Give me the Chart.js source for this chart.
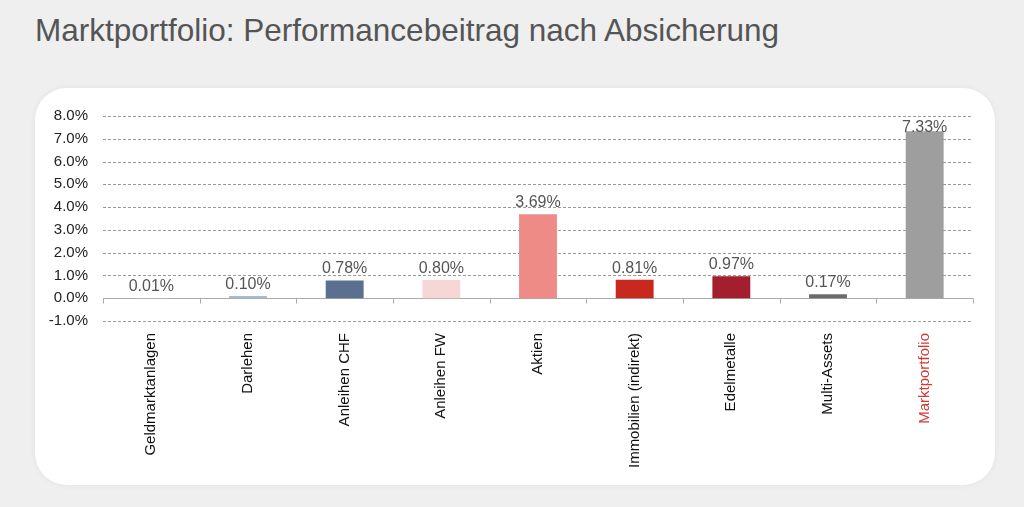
<!DOCTYPE html>
<html>
<head>
<meta charset="utf-8">
<script src="https://cdn.jsdelivr.net/npm/chart.js@4"></script>
<style>
  html, body { margin: 0; padding: 0; }
  body { width: 1024px; height: 507px; background: #efefef; position: relative; overflow: hidden;
         font-family: "Liberation Sans", Arial, sans-serif; }
  #title { position: absolute; left: 35px; top: 12px; margin: 0; font-size: 31.5px; font-weight: normal; color: #555555; }
  #card { position: absolute; left: 35px; top: 88px; width: 960px; height: 397px; background: #fff;
          border-radius: 32px; box-shadow: 0 0 6px rgba(0,0,0,0.06); }
  #wrap { position: absolute; left: 0; top: 0; width: 1024px; height: 507px; }
</style>
</head>
<body>
<h1 id="title">Marktportfolio: Performancebeitrag nach Absicherung</h1>
<div id="card"></div>
<div id="wrap"><canvas id="myChart"></canvas></div>
<script>
const categories = ["Geldmarktanlagen", "Darlehen", "Anleihen CHF", "Anleihen FW", "Aktien",
  "Immobilien (indirekt)", "Edelmetalle", "Multi-Assets", "Marktportfolio"];
const performance = [0.01, 0.10, 0.78, 0.80, 3.69, 0.81, 0.97, 0.17, 7.33];
const barColors = ["#b8c7db", "#a9b9cf", "#5b7090", "#f7d6d6", "#ef8b87", "#c8291e", "#a31f2e", "#6b6b6b", "#9e9e9e"];
const labelColors = ["#111", "#111", "#111", "#111", "#111", "#111", "#111", "#111", "#d23a35"];
const yMin = -1, yMax = 8, yStep = 1;

(()=>{
  const ctx = document.getElementById('myChart').getContext('2d');
  const font = '"Liberation Sans", Arial, sans-serif';

  // gestrichelte Gitterlinien + Nulllinie mit Teilstrichen
  const gridPlugin = {
    id: 'gridPlugin',
    beforeDatasetsDraw(chart) {
      const c = chart.ctx, y = chart.scales.y, x = chart.scales.x, a = chart.chartArea;
      c.save();
      c.lineWidth = 1;
      y.ticks.forEach(t => {
        if (t.value === 0) return;
        const py = Math.round(y.getPixelForValue(t.value)) + 0.5;
        c.strokeStyle = '#9a9a9a';
        c.setLineDash([3, 2]);
        c.beginPath(); c.moveTo(a.left, py); c.lineTo(a.right, py); c.stroke();
      });
      const p0 = Math.round(y.getPixelForValue(0)) + 0.5;
      c.setLineDash([]);
      c.strokeStyle = '#aaaaaa';
      c.beginPath(); c.moveTo(a.left, p0); c.lineTo(a.right, p0); c.stroke();
      for (let i = 0; i <= categories.length; i++) {
        const px = Math.round(x.getPixelForValue(i - 0.5)) + 0.5;
        c.beginPath(); c.moveTo(px, p0); c.lineTo(px, p0 + 5); c.stroke();
      }
      c.restore();
    },
    afterDatasetsDraw(chart) {
      const c = chart.ctx, a = chart.chartArea;
      const meta = chart.getDatasetMeta(0);
      c.save();
      c.font = '16px ' + font;
      c.fillStyle = '#555555';
      c.textAlign = 'center';
      c.textBaseline = 'alphabetic';
      meta.data.forEach((bar, i) => {
        let ty = bar.y - 7;
        if (ty < a.top + 16) ty = a.top + 16;
        c.fillText(performance[i].toFixed(2) + '%', bar.x, ty);
      });
      c.restore();
    }
  };

  new Chart(ctx, {
    type: 'bar',
    data: {
      labels: categories,
      datasets: [{
        data: performance,
        backgroundColor: barColors,
        borderWidth: 0,
        barPercentage: 0.8,
        categoryPercentage: 0.49
      }]
    },
    options: {
      responsive: true,
      maintainAspectRatio: false,
      animation: false,
      layout: { padding: { top: 116, right: 51, left: 0, bottom: 0 } },
      plugins: { legend: { display: false }, tooltip: { enabled: false } },
      scales: {
        x: {
          grid: { display: false },
          border: { display: false },
          ticks: {
            minRotation: 90, maxRotation: 90, padding: 4, autoSkip: false,
            color: (c) => labelColors[c.index],
            font: { family: font, size: 15 }
          },
          afterFit: (s) => { s.height = 186; }
        },
        y: {
          min: yMin, max: yMax,
          grid: { display: false },
          border: { display: false },
          ticks: {
            stepSize: yStep, padding: 7, color: '#222',
            font: { family: font, size: 15 },
            callback: (v) => v.toFixed(1) + '%'
          },
          afterFit: (s) => { s.width = 103; }
        }
      }
    },
    plugins: [gridPlugin]
  });
})();
</script>
</body>
</html>
